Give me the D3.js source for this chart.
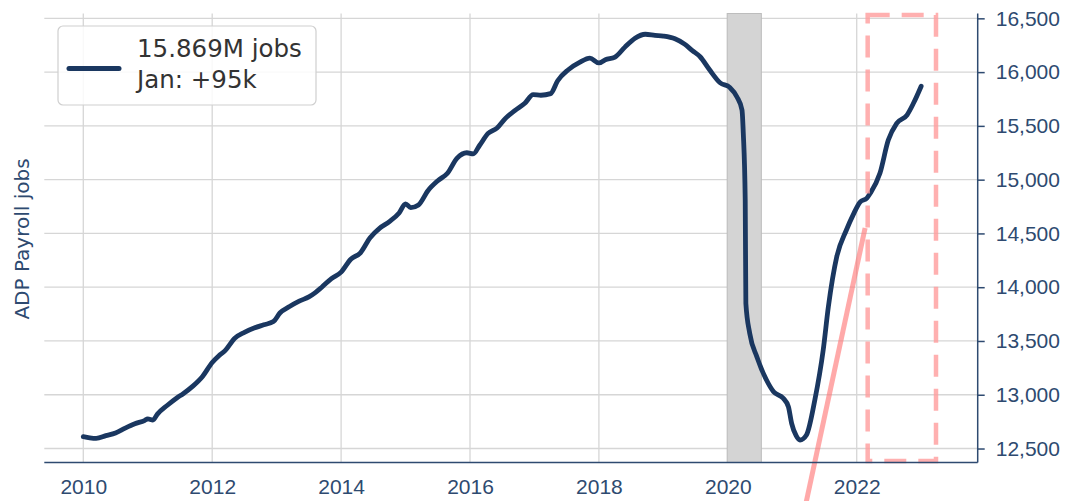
<!DOCTYPE html>
<html>
<head>
<meta charset="utf-8">
<script src="https://cdn.jsdelivr.net/npm/d3@7/dist/d3.min.js"></script>
<style>
	body { margin: 0; background: #fff; }
	svg { display: block; font-family: "DejaVu Sans", sans-serif; }
</style>
</head>
<body>
<div id="chart"></div>
<script>
"use strict";

// ADP payroll jobs, thousands (decimal years)
var years = [
	2010.00, 2010.10, 2010.20, 2010.35, 2010.50, 2010.65, 2010.80, 2010.95, 2011.00, 2011.08,
	2011.15, 2011.30, 2011.45, 2011.55, 2011.70, 2011.85, 2012.00, 2012.10, 2012.20, 2012.35,
	2012.50, 2012.65, 2012.80, 2012.95, 2013.05, 2013.20, 2013.35, 2013.50, 2013.60, 2013.70,
	2013.85, 2014.00, 2014.15, 2014.30, 2014.45, 2014.60, 2014.75, 2014.90, 2015.00, 2015.08,
	2015.20, 2015.35, 2015.50, 2015.65, 2015.80, 2015.95, 2016.05, 2016.15, 2016.28, 2016.42,
	2016.55, 2016.70, 2016.85, 2016.98, 2017.10, 2017.25, 2017.36, 2017.52, 2017.70, 2017.86,
	2018.00, 2018.10, 2018.25, 2018.40, 2018.56, 2018.72, 2018.87, 2019.00, 2019.18, 2019.33,
	2019.45, 2019.57, 2019.72, 2019.88, 2020.03, 2020.14, 2020.22, 2020.24, 2020.27, 2020.28,
	2020.34, 2020.45, 2020.60, 2020.71, 2020.86, 2020.94, 2020.99, 2021.06, 2021.12, 2021.22,
	2021.35, 2021.48, 2021.56, 2021.69, 2021.84, 2021.95, 2022.05, 2022.16, 2022.21, 2022.36,
	2022.49, 2022.62, 2022.78, 2022.88, 2023.00
];
var jobs = [
	12610, 12600, 12595, 12620, 12645, 12690, 12730, 12760, 12775, 12765,
	12820, 12900, 12970, 13010, 13080, 13170, 13300, 13360, 13410, 13525,
	13580, 13620, 13650, 13680, 13760, 13820, 13870, 13910, 13950, 14000,
	14080, 14140, 14260, 14320, 14460, 14550, 14610, 14690, 14775, 14740,
	14765, 14900, 14990, 15060, 15200, 15250, 15240, 15320, 15430, 15480,
	15570, 15645, 15710, 15790, 15785, 15800, 15920, 16020, 16090, 16130,
	16085, 16115, 16140, 16230, 16315, 16352, 16342, 16335, 16310, 16260,
	16200, 16143, 16019, 15901, 15858, 15771, 15647, 15433, 14811, 13850,
	13571, 13354, 13137, 13028, 12967, 12889, 12734, 12620, 12579, 12626,
	12951, 13416, 13818, 14283, 14532, 14680, 14790, 14830, 14873, 15059,
	15368, 15524, 15601, 15710, 15869
];

var xTicks = [2010, 2012, 2014, 2016, 2018, 2020, 2022];
var yTicks = [12500, 13000, 13500, 14000, 14500, 15000, 15500, 16000, 16500];

var legendLines = ["15.869M jobs", "Jan: +95k"];
var yLabel = "ADP Payroll jobs";

// recession shading + annotations
var recession = [2019.99, 2020.52];
var boxYears = [2022.17, 2023.23], boxJobs = [12384, 16531];
var arrowYears = [2020.90, 2022.13], arrowJobs = [11120, 14550];

// == layout ==
var W = 1080, H = 501;
var plot = { left: 44.3, right: 977.7, top: 13.5, bottom: 462.5 };
var navy = "#1a3760", axisCol = "#2e4a70";

var svg = d3.select("#chart").append("svg")
	.attr("width", W)
	.attr("height", H);

var x = d3.scaleLinear().domain([2009.395, 2023.877]).range([plot.left, plot.right]);
var y = d3.scaleLinear().domain([12370, 16545]).range([plot.bottom, plot.top]);

// grid
var grid = svg.append("g").attr("stroke", "#d6d6d6").attr("stroke-width", 1.3);
grid.selectAll(".vg").data(xTicks).enter().append("line")
	.attr("x1", d => x(d)).attr("x2", d => x(d))
	.attr("y1", plot.top).attr("y2", plot.bottom);
grid.selectAll(".hg").data(yTicks).enter().append("line")
	.attr("x1", plot.left).attr("x2", plot.right)
	.attr("y1", d => y(d)).attr("y2", d => y(d));

// recession band
svg.append("rect")
	.attr("x", x(recession[0]))
	.attr("width", x(recession[1]) - x(recession[0]))
	.attr("y", plot.top)
	.attr("height", plot.bottom - plot.top)
	.attr("fill", "#d4d4d4")
	.attr("stroke", "#bdbdbd")
	.attr("stroke-width", 1);

// the series
var pts = years.map(function (t, i) { return [t, jobs[i]]; });
var line = d3.line()
	.x(d => x(d[0]))
	.y(d => y(d[1]))
	.curve(d3.curveMonotoneX);

svg.append("path")
	.datum(pts)
	.attr("d", line)
	.attr("fill", "none")
	.attr("stroke", navy)
	.attr("stroke-width", 4.8)
	.attr("stroke-linejoin", "round")
	.attr("stroke-linecap", "round");

// red dashed box (not clipped)
svg.append("rect")
	.attr("x", x(boxYears[0]))
	.attr("y", y(boxJobs[1]))
	.attr("width", x(boxYears[1]) - x(boxYears[0]))
	.attr("height", y(boxJobs[0]) - y(boxJobs[1]))
	.attr("fill", "none")
	.attr("stroke", "#ff9c9c")
	.attr("stroke-opacity", 0.8)
	.attr("stroke-width", 4.5)
	.attr("stroke-dasharray", "22,12");

// red arrow-ish line, runs off the bottom of the figure
svg.append("line")
	.attr("x1", x(arrowYears[0])).attr("y1", y(arrowJobs[0]))
	.attr("x2", x(arrowYears[1])).attr("y2", y(arrowJobs[1]))
	.attr("stroke", "#ff7070")
	.attr("stroke-opacity", 0.6)
	.attr("stroke-width", 5);

// axes: bottom spine + right axis only
var xAxis = d3.axisBottom(x)
	.tickValues(xTicks)
	.tickFormat(d3.format("d"))
	.tickSize(0)
	.tickPadding(16.5);
var gx = svg.append("g")
	.attr("transform", "translate(0," + plot.bottom + ")")
	.call(xAxis);
gx.select(".domain").attr("d", "M" + plot.left + ",0H" + plot.right)
	.attr("stroke", axisCol).attr("stroke-width", 1.5);
gx.selectAll("text").attr("fill", axisCol).style("font-size", "21px");

var yAxis = d3.axisRight(y)
	.tickValues(yTicks)
	.tickFormat(d3.format(","))
	.tickSize(7)
	.tickPadding(11);
var gy = svg.append("g")
	.attr("transform", "translate(" + plot.right + ",0)")
	.call(yAxis);
gy.select(".domain").attr("d", "M0," + plot.top + "V" + plot.bottom)
	.attr("stroke", axisCol).attr("stroke-width", 1.5);
gy.selectAll(".tick line").attr("stroke", axisCol).attr("stroke-width", 1.5);
gy.selectAll("text").attr("fill", axisCol).style("font-size", "21px");

// y label on the left
svg.append("text")
	.attr("transform", "translate(29,239) rotate(-90)")
	.attr("text-anchor", "middle")
	.attr("fill", axisCol)
	.style("font-size", "20px")
	.text(yLabel);

// legend
var lg = svg.append("g");
lg.append("rect")
	.attr("x", 58).attr("y", 26)
	.attr("width", 258).attr("height", 79)
	.attr("rx", 5)
	.attr("fill", "#fff").attr("fill-opacity", 0.85)
	.attr("stroke", "#cfcfcf").attr("stroke-width", 1.2);
lg.append("line")
	.attr("x1", 69).attr("x2", 119)
	.attr("y1", 68.5).attr("y2", 68.5)
	.attr("stroke", navy).attr("stroke-width", 5)
	.attr("stroke-linecap", "round");
lg.selectAll("text").data(legendLines).enter().append("text")
	.attr("x", 137)
	.attr("y", (d, i) => 57 + i * 31)
	.attr("fill", "#333")
	.style("font-size", "24.5px")
	.text(d => d);
</script>
</body>
</html>
